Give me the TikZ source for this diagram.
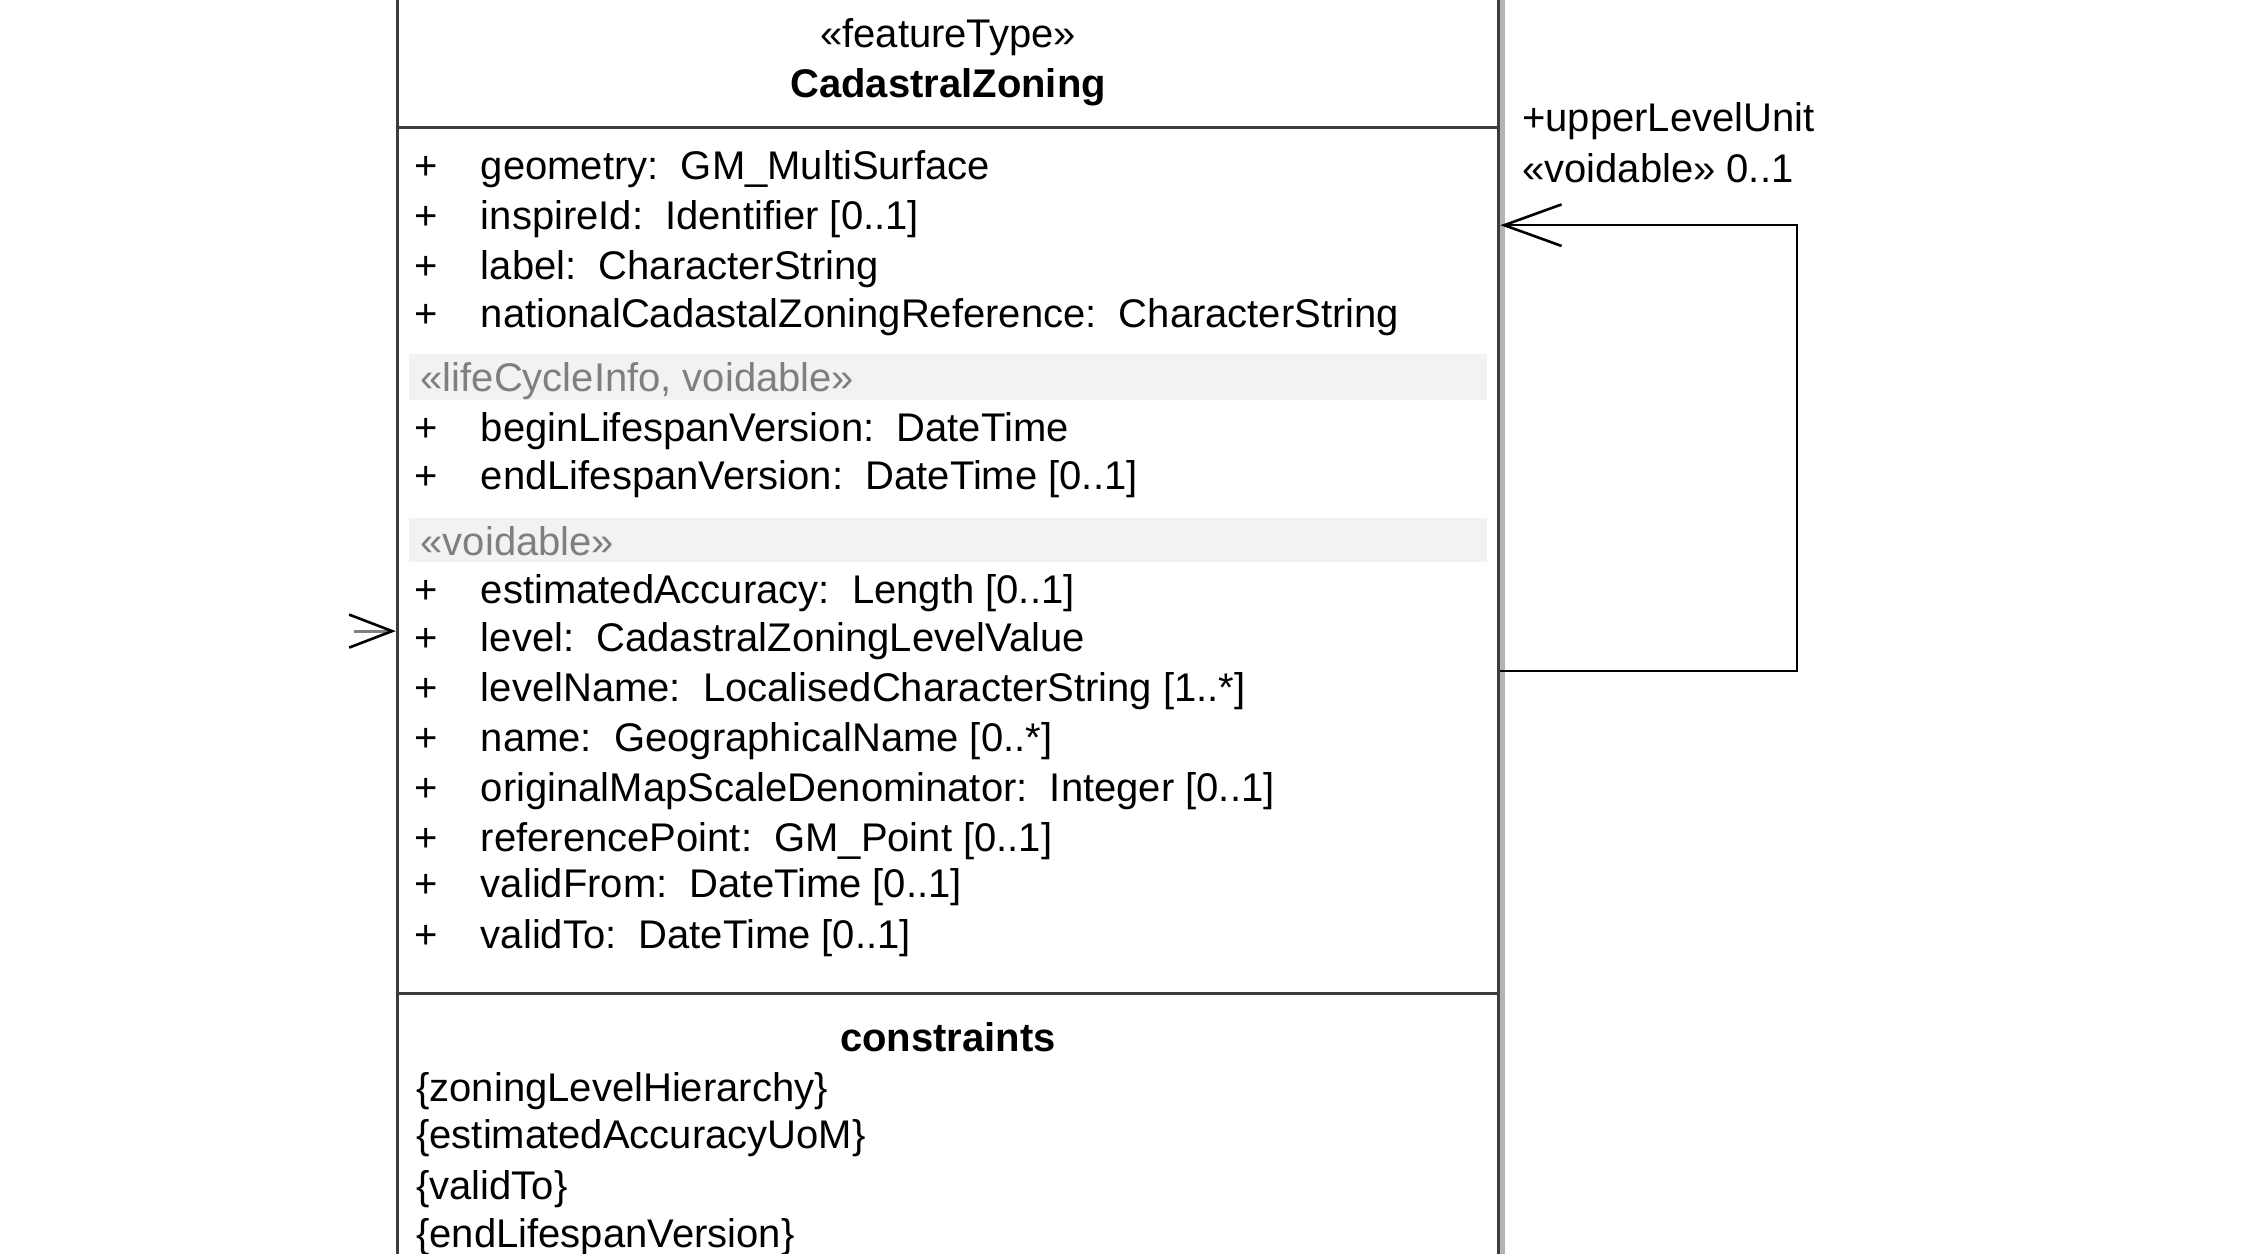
\documentclass[tikz,border=0pt]{standalone}
\usepackage{fontspec}
\setmainfont{Liberation Sans}
\usetikzlibrary{arrows.meta}
\definecolor{borderc}{HTML}{3C3C3C}
\definecolor{bandc}{HTML}{F2F2F2}
\definecolor{stereoc}{HTML}{7F7F7F}
\definecolor{shadowc}{HTML}{B4B4B4}
\newcommand{\umlfont}{\fontsize{20}{24}\selectfont}
\newcommand{\pl}{\makebox[33pt][l]{+}}
\tikzset{
  txt/.style={inner sep=0pt, anchor=base west, font=\umlfont},
  ctxt/.style={inner sep=0pt, anchor=base, font=\umlfont},
  btxt/.style={inner sep=0pt, anchor=base, font=\umlfont\bfseries},
  gtxt/.style={txt, text=stereoc},
  classbox/.style={draw=borderc, line width=1.5pt, rectangle, inner sep=0pt,
    minimum width=550.8pt, minimum height=659.8pt},
  sepline/.style={draw=borderc, line width=1.5pt},
  assoc/.style={draw=black, line width=1pt},
  opentip/.style={-{Straight Barb[length=28.7pt, width=20.8pt, line width=1.3pt]}},
  smalltip/.style={-{Straight Barb[length=21.5pt, width=16.5pt, line width=1.3pt, color=black]}}
}
\begin{document}
\begin{tikzpicture}[x=0.71716pt, y=-0.71716pt]
\useasboundingbox (0,0) rectangle (1568,874);
\clip (0,0) rectangle (1568,874);
\fill[white] (0,0) rectangle (1568,874);

% shadow on right side of the class box
\draw[shadowc, line width=2.2pt] (1047.6,-30) -- (1047.6,900);

% class box
\node[classbox] (box) at (661,440) {};

% stereotype bands
\fill[bandc] (285,247) rectangle (1037,279);
\fill[bandc] (285,361) rectangle (1037,392);

% separators
\coordinate (s1) at (0,89);
\coordinate (s2) at (0,693);
\draw[sepline] (box.west |- s1) -- (box.east |- s1);
\draw[sepline] (box.west |- s2) -- (box.east |- s2);

% header
\node[ctxt] (stereo) at (661,33) {«featureType»};
\node[btxt] (cname) at (661,68) {CadastralZoning};

% attributes
\node[txt] (a1) at (289,125) {\pl geometry:~~GM\_MultiSurface};
\node[txt] (a2) at (289,160) {\pl inspireId:~~Identifier [0..1]};
\node[txt] (a3) at (289,195) {\pl label:~~CharacterString};
\node[txt] (a4) at (289,228) {\pl nationalCadastalZoningReference:~~CharacterString};

\node[gtxt] (g1) at (293,273) {«lifeCycleInfo, voidable»};
\node[txt] (b1) at (289,308) {\pl beginLifespanVersion:~~DateTime};
\node[txt] (b2) at (289,341) {\pl endLifespanVersion:~~DateTime [0..1]};

\node[gtxt] (g2) at (293,387) {«voidable»};
\node[txt] (c1) at (289,421) {\pl estimatedAccuracy:~~Length [0..1]};
\node[txt] (c2) at (289,454) {\pl level:~~CadastralZoningLevelValue};
\node[txt] (c3) at (289,489) {\pl levelName:~~LocalisedCharacterString [1..*]};
\node[txt] (c4) at (289,524) {\pl name:~~GeographicalName [0..*]};
\node[txt] (c5) at (289,559) {\pl originalMapScaleDenominator:~~Integer [0..1]};
\node[txt] (c6) at (289,594) {\pl referencePoint:~~GM\_Point [0..1]};
\node[txt] (c7) at (289,626) {\pl validFrom:~~DateTime [0..1]};
\node[txt] (c8) at (289,661) {\pl validTo:~~DateTime [0..1]};

% constraints
\node[btxt] (ctitle) at (661,733) {constraints};
\node[txt] (k1) at (290,768) {\{zoningLevelHierarchy\}};
\node[txt] (k2) at (290,801) {\{estimatedAccuracyUoM\}};
\node[txt] (k3) at (290,836) {\{validTo\}};
\node[txt] (k4) at (290,870) {\{endLifespanVersion\}};

% self association
\coordinate (selfA) at (1253,468);
\coordinate (selfB) at (1253,157);
\draw[assoc, opentip] (box.east |- selfA) -- (selfA) -- (selfB) -- (box.east |- selfB);
\node[txt] (r1) at (1061,92) {+upperLevelUnit};
\node[txt] (r2) at (1061,127) {«voidable» 0..1};

% incoming association on the left
\coordinate (lvlSrc) at (247,440);
\draw[draw=gray, line width=1.5pt, smalltip] (lvlSrc) -- (box.west |- lvlSrc);
\end{tikzpicture}
\end{document}
